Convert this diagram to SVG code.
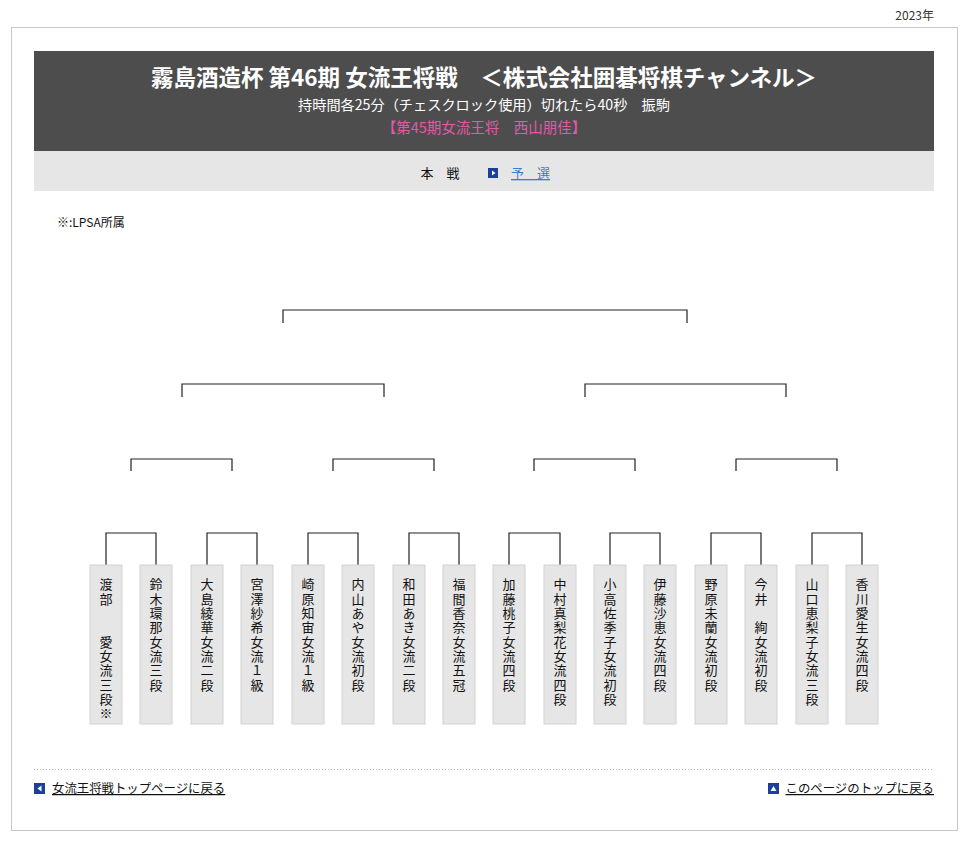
<svg xmlns="http://www.w3.org/2000/svg" width="969" height="846" viewBox="0 0 969 846">
<style>
text{font-family:"Noto Sans CJK JP","Liberation Sans",sans-serif}
.box{fill:#e6e6e6;stroke:#d2d2d2;stroke-width:1}
.nm{font-size:13px;letter-spacing:1.3px;fill:#111;writing-mode:vertical-rl;text-orientation:upright}
.ln{fill:none;stroke:#222;stroke-width:1.2}
.lk{font-size:12.4px;fill:#111;text-decoration:underline}
</style>
<rect width="969" height="846" fill="#fff"/>
<text x="934" y="20" font-size="12" fill="#333" text-anchor="end">2023年</text>
<rect x="11.5" y="27.5" width="946" height="803" fill="none" stroke="#c8c8c8"/>
<g id="header">
<rect x="34" y="51" width="900" height="100" fill="#4d4d4d"/>
<text x="484" y="86" font-size="22.5" font-weight="bold" fill="#fff" text-anchor="middle">霧島酒造杯 第46期 女流王将戦　＜株式会社囲碁将棋チャンネル＞</text>
<text x="484" y="110" font-size="14.2" fill="#fff" text-anchor="middle">持時間各25分（チェスクロック使用）切れたら40秒　振駒</text>
<text x="484" y="133" font-size="14.5" fill="#e05aa8" text-anchor="middle">【第45期女流王将　西山朋佳】</text>
<rect x="34" y="151" width="900" height="40" fill="#e6e6e6"/>
<text x="440" y="178" font-size="13" fill="#111" text-anchor="middle">本　戦</text>
<rect x="488" y="168" width="10" height="10" fill="#1c3f9c"/>
<path d="M492 170.5 L495.5 173 L492 175.5Z" fill="#fff"/>
<text x="511" y="178" font-size="13" fill="#3c7cc8" text-decoration="underline">予　選</text>
</g>
<text x="57" y="227" font-size="12" fill="#111">※:LPSA所属</text>
<g id="connectors" class="ln">
<path d="M283 323V310H687V323"/>
<path d="M182 397V384H384V397M585 397V384H786V397"/>
<path d="M131 471V459H232V471M333 471V459H434V471M534 471V459H635V471M736 471V459H837V471"/>
<path d="M106 565V533H156V565M207 565V533H257V565M308 565V533H358V565M409 565V533H459V565M509 565V533H560V565M610 565V533H660V565M711 565V533H761V565M812 565V533H862V565"/>
</g>
<g id="p1"><rect class="box" x="90" y="565" width="32" height="159"/><text class="nm" x="106" y="578">渡部　　愛女流三段※</text></g>
<g id="p2"><rect class="box" x="140" y="565" width="32" height="159"/><text class="nm" x="156" y="578">鈴木環那女流三段</text></g>
<g id="p3"><rect class="box" x="191" y="565" width="32" height="159"/><text class="nm" x="207" y="578">大島綾華女流二段</text></g>
<g id="p4"><rect class="box" x="241" y="565" width="32" height="159"/><text class="nm" x="257" y="578">宮澤紗希女流１級</text></g>
<g id="p5"><rect class="box" x="292" y="565" width="32" height="159"/><text class="nm" x="308" y="578">崎原知宙女流１級</text></g>
<g id="p6"><rect class="box" x="342" y="565" width="32" height="159"/><text class="nm" x="358" y="578">内山あや女流初段</text></g>
<g id="p7"><rect class="box" x="393" y="565" width="32" height="159"/><text class="nm" x="409" y="578">和田あき女流二段</text></g>
<g id="p8"><rect class="box" x="443" y="565" width="32" height="159"/><text class="nm" x="459" y="578">福間香奈女流五冠</text></g>
<g id="p9"><rect class="box" x="493" y="565" width="32" height="159"/><text class="nm" x="509" y="578">加藤桃子女流四段</text></g>
<g id="p10"><rect class="box" x="544" y="565" width="32" height="159"/><text class="nm" x="560" y="578">中村真梨花女流四段</text></g>
<g id="p11"><rect class="box" x="594" y="565" width="32" height="159"/><text class="nm" x="610" y="578">小高佐季子女流初段</text></g>
<g id="p12"><rect class="box" x="644" y="565" width="32" height="159"/><text class="nm" x="660" y="578">伊藤沙恵女流四段</text></g>
<g id="p13"><rect class="box" x="695" y="565" width="32" height="159"/><text class="nm" x="711" y="578">野原未蘭女流初段</text></g>
<g id="p14"><rect class="box" x="745" y="565" width="32" height="159"/><text class="nm" x="761" y="578">今井　絢女流初段</text></g>
<g id="p15"><rect class="box" x="796" y="565" width="32" height="159"/><text class="nm" x="812" y="578">山口恵梨子女流三段</text></g>
<g id="p16"><rect class="box" x="846" y="565" width="32" height="159"/><text class="nm" x="862" y="578">香川愛生女流四段</text></g>
<line x1="34" y1="769.5" x2="934" y2="769.5" stroke="#bbb" stroke-dasharray="1,2"/>
<g id="footer">
<rect x="34" y="783" width="11" height="11" fill="#1c3f9c"/>
<path d="M41.5 785.5 L37.5 788.5 L41.5 791.5Z" fill="#fff"/>
<text class="lk" x="52" y="793">女流王将戦トップページに戻る</text>
<rect x="768" y="783" width="11" height="11" fill="#1c3f9c"/>
<path d="M770.5 791 L773.5 786 L776.5 791Z" fill="#fff"/>
<text class="lk" x="934" y="793" text-anchor="end">このページのトップに戻る</text>
</g>
</svg>
